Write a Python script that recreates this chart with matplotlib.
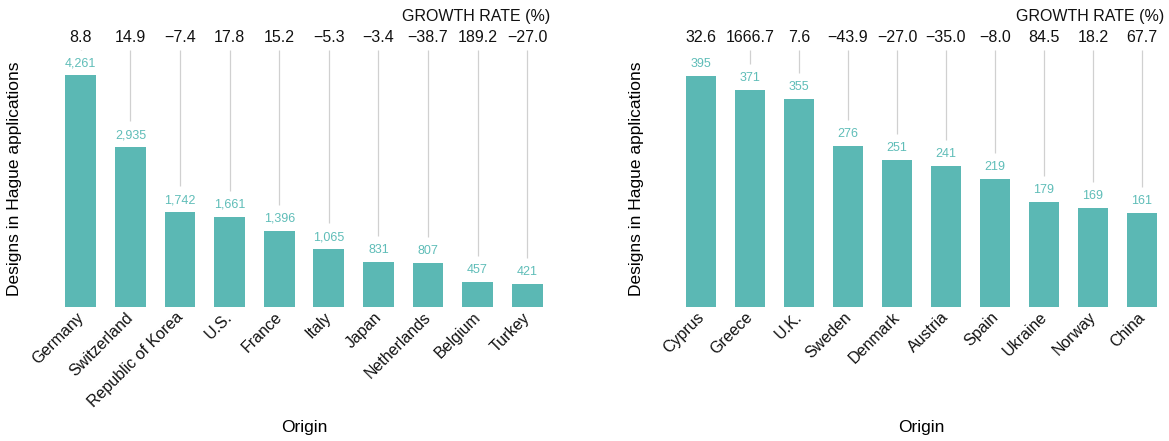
import matplotlib
matplotlib.use("Agg")
import matplotlib.pyplot as plt
import matplotlib.transforms as mtransforms

plt.rcParams['font.family'] = ['Liberation Sans', 'DejaVu Sans']

left_countries = ["Germany", "Switzerland", "Republic of Korea", "U.S.", "France",
                  "Italy", "Japan", "Netherlands", "Belgium", "Turkey"]
left_values = [4261, 2935, 1742, 1661, 1396, 1065, 831, 807, 457, 421]
left_growth = ["8.8", "14.9", "\u22127.4", "17.8", "15.2", "\u22125.3", "\u22123.4",
               "\u221238.7", "189.2", "\u221227.0"]

right_countries = ["Cyprus", "Greece", "U.K.", "Sweden", "Denmark", "Austria",
                   "Spain", "Ukraine", "Norway", "China"]
right_values = [395, 371, 355, 276, 251, 241, 219, 179, 169, 161]
right_growth = ["32.6", "1666.7", "7.6", "\u221243.9", "\u221227.0", "\u221235.0",
                "\u22128.0", "84.5", "18.2", "67.7"]

BAR = "#5bb8b4"
LABEL = "#5fbdb8"
GRID = "#d0d0d0"

W, H = 1169, 441
fig = plt.figure(figsize=(W / 100, H / 100), dpi=100)

def panel(rect, countries, values, growth, ymax, ylab_px):
    ax = fig.add_axes(rect)
    x = list(range(len(countries)))
    ax.bar(x, values, width=0.62, color=BAR, zorder=2)
    ax.set_xlim(-0.5, len(countries) - 0.5)
    ax.set_ylim(0, ymax)
    ax_h_px = rect[3] * H
    ax_w_px = rect[2] * W
    px = ymax / ax_h_px
    for xi, v, g in zip(x, values, growth):
        ax.text(xi, v + 6 * px, f"{v:,}", ha="center", va="bottom",
                color=LABEL, fontsize=9)
        ax.vlines(xi, v + 26 * px, ymax, color=GRID, linewidth=0.9, zorder=1)
        ax.text(xi, ymax + 5 * px, g, ha="center", va="bottom", fontsize=11.5,
                color="#111111", clip_on=False)
    ax.text(len(countries) - 0.5 - 0.04, ymax + 26 * px, "GROWTH RATE (%)",
            ha="right", va="bottom", fontsize=11.5, color="#111111", clip_on=False)
    ax.set_xticks([])
    tick_tr = ax.get_xaxis_transform() + mtransforms.ScaledTranslation(
        0.5 / 100, -8 / 100, fig.dpi_scale_trans)
    for xi, name in zip(x, countries):
        ax.text(xi, 0, name, transform=tick_tr, rotation=45, ha="right",
                va="center", rotation_mode="anchor", fontsize=11.5,
                color="#111111", clip_on=False)
    ax.set_yticks([])
    for s in ax.spines.values():
        s.set_visible(False)
    ax.set_ylabel("Designs in Hague applications", fontsize=12.5)
    ax.yaxis.set_label_coords(-ylab_px / ax_w_px, 0.5, transform=ax.transAxes)
    ax.set_xlabel("Origin", fontsize=12.5)
    ax.xaxis.set_label_coords(0.5, -(420 - 307) / ax_h_px, transform=ax.transAxes)
    return ax

bottom = (H - 307) / H
height = 257 / H
panel([56 / W, bottom, 496 / W, height], left_countries, left_values, left_growth,
      4261 * 257 / 232, 34)
panel([676.5 / W, bottom, 490 / W, height], right_countries, right_values, right_growth,
      395 * 257 / 231, 32)

fig.savefig("out.png", dpi=100)
